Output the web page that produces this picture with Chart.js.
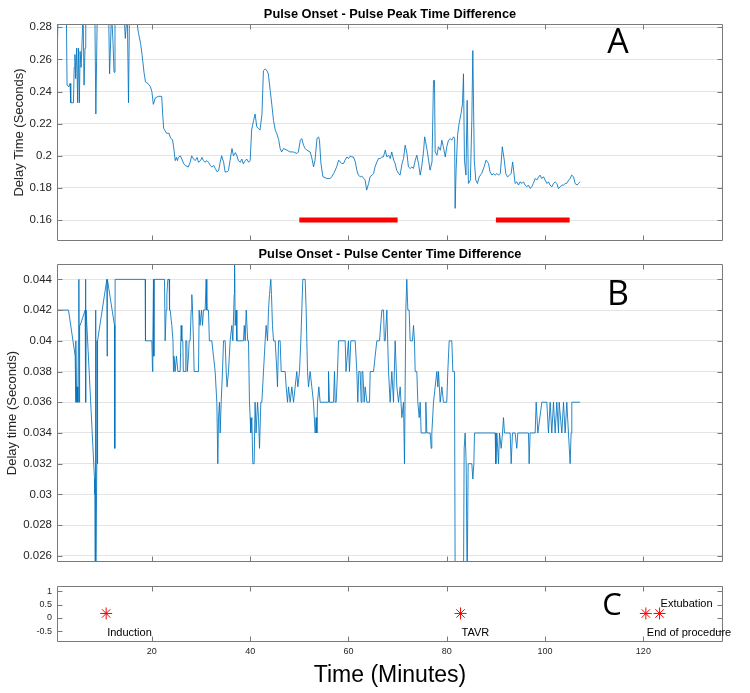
<!DOCTYPE html>
<html>
<head>
<meta charset="utf-8">
<script src="https://cdn.jsdelivr.net/npm/chart.js@4"></script>
<style>
  body { margin: 0; background: #fff; }
  #wrap { position: relative; width: 750px; height: 693px; }
  canvas { position: absolute; left: 0; top: 0; }
</style>
</head>
<body>
<div id="wrap">
  <canvas id="chartA" width="750" height="693"></canvas>
  <canvas id="chartB" width="750" height="693"></canvas>
  <canvas id="chartC" width="750" height="693"></canvas>
</div>
<script>
// shared time axis (minutes)
const xTicks = [20, 40, 60, 80, 100, 120];
const xRange = [0.7, 136.2];

// A: pulse onset - pulse peak, [minutes, seconds]
const peakTicks = [0.16, 0.18, 0.2, 0.22, 0.24, 0.26, 0.28];
const peakRange = [0.147, 0.282];
const peakDiff = [
  [0.75,0.266],[0.95,0.29],[2.6,0.29],[2.75,0.244],[3.1,0.243],[3.35,0.245],[3.5,0.233],[4.05,0.233],
  [4.2,0.255],[4.35,0.263],[4.5,0.248],[4.7,0.267],[4.9,0.233],[5.05,0.267],[5.25,0.233],[5.4,0.265],
  [5.6,0.255],[5.85,0.275],[6.0,0.29],[6.2,0.244],[6.4,0.267],[6.55,0.29],[8.4,0.29],[8.6,0.226],
  [8.9,0.29],[11.2,0.29],[11.4,0.251],[11.6,0.27],[11.8,0.29],[12.1,0.27],[12.3,0.252],[12.5,0.29],
  [14.3,0.29],[14.6,0.273],[15.0,0.29],[15.1,0.29],[15.25,0.233],[15.45,0.29],[16.9,0.29],[17.1,0.28],
  [17.3,0.276],[17.7,0.27],[18.0,0.263],[18.4,0.252],[18.7,0.246],[19.2,0.245],[19.7,0.243],[20.0,0.24],
  [20.3,0.232],[20.7,0.236],[21.3,0.237],[22.0,0.237],[22.2,0.226],[22.4,0.217],[23.0,0.214],[23.5,0.214],
  [23.8,0.211],[24.2,0.21],[24.45,0.205],[24.75,0.197],[25.0,0.199],[25.2,0.197],[25.4,0.199],[25.8,0.2],
  [26.1,0.198],[26.5,0.195],[26.8,0.194],[27.4,0.193],[27.8,0.196],[28.1,0.2],[28.5,0.198],[28.8,0.197],
  [29.2,0.199],[29.5,0.196],[29.9,0.197],[30.2,0.199],[30.5,0.197],[30.8,0.196],[31.2,0.197],[31.5,0.196],
  [31.9,0.194],[32.2,0.193],[32.6,0.194],[32.9,0.192],[33.3,0.19],[33.6,0.191],[33.9,0.196],[34.2,0.2],
  [34.6,0.196],[34.9,0.19],[35.3,0.19],[35.6,0.191],[35.9,0.197],[36.3,0.2045],[36.6,0.2],[37.0,0.202],
  [37.3,0.2],[37.6,0.197],[38.0,0.196],[38.3,0.198],[38.6,0.195],[39.0,0.197],[39.3,0.198],[39.7,0.196],
  [40.0,0.197],[40.3,0.216],[40.7,0.222],[41.0,0.226],[41.35,0.218],[41.7,0.217],[42.0,0.216],[42.4,0.226],
  [42.7,0.253],[43.05,0.254],[43.4,0.253],[43.7,0.251],[44.1,0.24],[44.4,0.232],[44.75,0.222],[45.1,0.216],
  [45.4,0.214],[45.8,0.21],[46.1,0.2045],[46.4,0.2024],[46.8,0.2045],[47.5,0.2035],[48.1,0.2024],[48.8,0.2024],
  [49.5,0.2014],[49.8,0.2024],[50.2,0.2097],[50.5,0.2107],[50.85,0.2066],[51.2,0.2045],[51.5,0.2035],[52.2,0.2024],
  [52.5,0.1993],[52.9,0.1931],[53.2,0.1973],[53.6,0.2107],[53.9,0.2118],[54.1,0.2097],[54.4,0.1952],[54.8,0.187],
  [55.6,0.1859],[56.3,0.1859],[56.6,0.187],[57.0,0.189],[57.6,0.1931],[58.0,0.1973],[58.3,0.1962],[58.65,0.1952],
  [59.0,0.1952],[59.3,0.1973],[59.7,0.1993],[60.0,0.1983],[60.35,0.1998],[60.7,0.1993],[61.0,0.1993],[61.4,0.1962],
  [61.7,0.1911],[62.0,0.188],[62.4,0.187],[62.7,0.1874],[63.1,0.1859],[63.4,0.1849],[63.7,0.1787],[64.1,0.1828],
  [64.4,0.187],[64.8,0.188],[65.1,0.189],[65.4,0.1931],[65.8,0.1962],[66.1,0.1983],[66.45,0.1983],[66.8,0.1993],
  [67.1,0.1993],[67.5,0.2035],[67.8,0.1993],[68.15,0.2004],[68.5,0.1983],[68.8,0.2024],[69.2,0.1973],[69.5,0.1952],
  [69.8,0.1911],[70.2,0.189],[70.5,0.188],[70.9,0.1952],[71.2,0.1983],[71.54,0.2066],[71.9,0.2014],[72.2,0.1931],
  [72.55,0.1921],[72.9,0.1931],[73.2,0.1921],[73.6,0.1973],[73.9,0.2004],[74.25,0.1952],[74.6,0.188],[74.9,0.1931],
  [75.3,0.2035],[75.5,0.2118],[75.7,0.2087],[76.0,0.2035],[76.3,0.1973],[76.6,0.1911],[77.0,0.1962],[77.3,0.2469],
  [77.5,0.2469],[77.64,0.2024],[78.0,0.2004],[78.3,0.2056],[78.7,0.2035],[79.0,0.2097],[79.3,0.2056],[79.7,0.1993],
  [80.0,0.2056],[80.35,0.2097],[80.7,0.2107],[81.0,0.2097],[81.4,0.2118],[81.6,0.2107],[81.7,0.1673],[81.9,0.1911],
  [82.2,0.2128],[82.5,0.22],[82.9,0.2262],[83.2,0.2324],[83.4,0.251],[83.6,0.1973],[83.9,0.188],[84.15,0.2345],
  [84.4,0.1828],[84.8,0.1849],[85.1,0.2221],[85.3,0.2655],[85.6,0.1973],[85.9,0.1849],[86.25,0.1828],[86.6,0.1869],
  [87.1,0.189],[87.6,0.1931],[88.0,0.1973],[88.5,0.1952],[88.8,0.19],[89.2,0.188],[89.5,0.189],[89.85,0.188],
  [90.2,0.189],[90.5,0.188],[90.9,0.189],[91.3,0.2056],[91.7,0.1973],[92.0,0.189],[92.35,0.1869],[92.8,0.188],
  [93.1,0.189],[93.4,0.1962],[93.6,0.1911],[93.9,0.1828],[94.25,0.1838],[94.6,0.1818],[94.9,0.1838],[95.3,0.1828],
  [95.6,0.1838],[95.95,0.1818],[96.3,0.1807],[96.6,0.1818],[96.96,0.1797],[97.3,0.1807],[97.6,0.1828],[98.0,0.1859],
  [98.3,0.1849],[98.7,0.1869],[99.0,0.188],[99.3,0.1859],[99.7,0.1869],[100.0,0.1849],[100.4,0.1828],[100.7,0.1838],
  [101.0,0.1818],[101.4,0.1807],[101.7,0.1828],[102.05,0.1838],[102.4,0.1828],[102.7,0.1797],[103.1,0.1807],[103.4,0.1818],
  [103.75,0.1818],[104.1,0.1828],[104.4,0.1828],[104.8,0.1849],[105.1,0.1859],[105.4,0.188],[105.8,0.1869],[106.1,0.1828],
  [106.5,0.1818],[106.8,0.1828],[107.1,0.1838]
];
// red bars on A
const stableWindows = [[50, 70], [90, 105]];
const stableLevel = 0.16;

// B: pulse onset - pulse center, [minutes, seconds]
const centerTicks = [0.026, 0.028, 0.03, 0.032, 0.034, 0.036, 0.038, 0.04, 0.042, 0.044];
const centerRange = [0.0256, 0.045];
const centerDiff = [
  [0.66,0.042],[3.04,0.042],[4.4,0.039],[4.5,0.036],[4.55,0.04],[4.65,0.037],[4.75,0.036],[4.85,0.037],
  [4.95,0.036],[5.05,0.04],[5.15,0.044],[5.22,0.036],[5.3,0.041],[5.41,0.041],[6.43,0.042],[6.5,0.044],
  [6.56,0.036],[6.62,0.042],[8.33,0.031],[8.4,0.03],[8.46,0.024],[8.55,0.042],[8.6,0.024],[8.8,0.032],
  [8.85,0.04],[8.9,0.032],[9.0,0.04],[10.84,0.044],[10.9,0.039],[10.95,0.044],[12.4,0.041],[12.43,0.037],
  [12.47,0.033],[12.53,0.044],[18.64,0.044],[18.7,0.04],[20.0,0.04],[20.13,0.038],[20.2,0.04],[20.33,0.044],
  [20.4,0.039],[20.47,0.044],[22.57,0.044],[22.7,0.04],[22.91,0.042],[23.05,0.043],[23.25,0.044],[23.52,0.044],
  [23.6,0.042],[23.72,0.042],[24.06,0.041],[24.3,0.04],[24.4,0.038],[24.5,0.039],[24.74,0.038],[25.0,0.039],
  [25.3,0.038],[25.76,0.038],[25.96,0.041],[26.1,0.04],[26.3,0.04],[26.4,0.038],[26.78,0.038],[26.9,0.04],
  [27.11,0.04],[27.2,0.038],[27.45,0.039],[27.6,0.04],[27.79,0.04],[28.0,0.042],[28.13,0.043],[28.27,0.042],
  [28.47,0.04],[28.6,0.038],[29.49,0.038],[29.62,0.042],[29.8,0.041],[29.96,0.041],[30.1,0.042],[30.3,0.041],
  [30.5,0.042],[30.84,0.042],[31.05,0.044],[31.18,0.042],[31.52,0.042],[31.7,0.04],[32.2,0.04],[32.54,0.039],
  [32.88,0.038],[33.22,0.036],[33.42,0.032],[33.56,0.035],[33.75,0.036],[33.9,0.034],[34.1,0.036],[34.37,0.038],
  [34.58,0.04],[34.91,0.04],[35.12,0.038],[35.3,0.037],[35.46,0.037],[35.59,0.038],[35.93,0.04],[36.27,0.041],
  [36.47,0.04],[36.75,0.043],[36.82,0.046],[36.95,0.041],[37.15,0.042],[37.29,0.04],[38.64,0.04],[38.8,0.041],
  [38.98,0.04],[39.2,0.042],[39.32,0.042],[39.5,0.04],[39.66,0.04],[39.86,0.036],[40.0,0.035],[40.13,0.034],
  [40.34,0.035],[40.54,0.032],[40.81,0.032],[41.0,0.036],[41.2,0.034],[41.35,0.034],[41.5,0.036],[41.7,0.035],
  [41.9,0.033],[42.17,0.036],[42.37,0.036],[42.71,0.038],[43.05,0.04],[43.25,0.041],[43.53,0.04],[43.73,0.042],
  [43.93,0.043],[44.2,0.044],[44.34,0.043],[44.54,0.041],[44.75,0.04],[45.09,0.04],[45.43,0.038],[45.56,0.037],
  [45.77,0.04],[46.1,0.04],[46.31,0.038],[47.12,0.038],[47.33,0.037],[47.6,0.036],[47.8,0.037],[48.14,0.036],
  [48.48,0.037],[48.82,0.036],[49.15,0.037],[49.49,0.038],[49.7,0.037],[50.04,0.038],[50.31,0.04],[50.51,0.042],
  [50.71,0.044],[51.19,0.044],[51.39,0.042],[51.67,0.038],[51.87,0.037],[52.2,0.038],[52.54,0.037],[52.88,0.036],
  [53.22,0.034],[53.43,0.035],[53.56,0.034],[53.7,0.036],[53.97,0.037],[54.24,0.036],[55.9,0.036],[55.94,0.038],
  [56.14,0.036],[56.95,0.036],[57.16,0.038],[57.3,0.036],[57.5,0.036],[57.77,0.038],[57.97,0.04],[59.33,0.04],
  [59.5,0.038],[59.67,0.038],[60.0,0.04],[60.2,0.038],[60.48,0.04],[61.37,0.04],[61.7,0.038],[61.9,0.036],
  [62.1,0.038],[62.38,0.038],[62.58,0.036],[62.75,0.038],[62.92,0.038],[63.2,0.036],[63.4,0.037],[63.74,0.036],
  [64.28,0.036],[64.42,0.038],[65.1,0.038],[65.43,0.039],[65.77,0.04],[66.32,0.04],[66.79,0.042],[67.13,0.042],
  [67.3,0.04],[67.47,0.04],[67.81,0.042],[68.15,0.038],[68.48,0.036],[68.82,0.038],[69.16,0.036],[69.5,0.04],
  [69.84,0.037],[70.18,0.036],[70.52,0.037],[70.86,0.035],[71.2,0.036],[71.4,0.032],[71.67,0.042],[71.87,0.044],
  [72.08,0.042],[72.35,0.042],[72.55,0.04],[73.03,0.04],[73.23,0.041],[73.43,0.04],[73.57,0.038],[73.91,0.038],
  [74.11,0.036],[74.39,0.035],[74.59,0.036],[74.79,0.034],[75.6,0.034],[75.74,0.036],[75.94,0.034],[76.62,0.034],
  [76.83,0.033],[76.96,0.034],[77.3,0.036],[77.64,0.037],[77.98,0.038],[78.18,0.037],[78.32,0.038],[78.66,0.036],
  [79.0,0.037],[79.33,0.036],[80.0,0.036],[80.21,0.038],[80.49,0.04],[81.03,0.04],[81.23,0.038],[81.57,0.038],
  [81.71,0.024],[83.4,0.024],[83.54,0.033],[83.74,0.034],[83.95,0.032],[84.15,0.024],[84.35,0.032],[85.1,0.032],
  [85.3,0.031],[85.51,0.032],[85.64,0.034],[89.85,0.034],[89.98,0.032],[90.19,0.034],[90.52,0.032],[90.73,0.034],
  [91.07,0.033],[91.34,0.034],[91.54,0.035],[91.74,0.034],[92.9,0.034],[93.1,0.032],[93.37,0.034],[93.91,0.034],
  [94.25,0.033],[94.45,0.034],[96.62,0.034],[96.76,0.032],[96.96,0.034],[97.98,0.034],[98.19,0.036],[98.53,0.034],
  [99.34,0.036],[100.36,0.036],[100.69,0.034],[101.03,0.036],[101.37,0.034],[101.71,0.036],[102.05,0.034],[102.39,0.036],
  [102.73,0.034],[102.87,0.036],[103.41,0.034],[103.75,0.036],[104.08,0.034],[104.42,0.036],[104.76,0.034],[105.1,0.032],
  [105.3,0.034],[105.44,0.036],[107.13,0.036]
];

// C: procedure events
const eventTicks = [-0.5, 0, 0.5, 1];
const eventRange = [-0.9, 1.2];
const eventNames = ['Induction', 'TAVR', 'End of procedure', 'Extubation'];
const eventTimes = [10.7, 82.8, 120.5, 123.3];
const eventLevel = [0.17, 0.17, 0.17, 0.17];
const labelBelow = [true, true, true, false];

const FONT = "'Liberation Sans', Arial, sans-serif";
const LETTER_FONT = "'Open Sans', 'Liberation Sans', sans-serif";
const TEXT = '#262626';
const AXIS = '#7a7a7a';
const GRID = '#e4e4e4';
const BLUE = '#0072BD';

const toXY = rows => rows.map(r => ({ x: r[0], y: r[1] }));

// box, inward tick marks, panel title, panel letter, event labels
const framePlugin = {
  id: 'frame',
  afterDraw(chart, args, o) {
    const { ctx, chartArea: a } = chart;
    const x = chart.scales.x, y = chart.scales.y;
    const L = Math.round(a.left) + 0.5, R = Math.round(a.right) - 0.5;
    const T = Math.round(a.top) + 0.5, B = Math.round(a.bottom) - 0.5;
    ctx.save();
    ctx.strokeStyle = AXIS;
    ctx.lineWidth = 1;
    ctx.beginPath();
    ctx.rect(L, T, R - L, B - T);
    xTicks.forEach(v => {
      const px = Math.round(x.getPixelForValue(v)) + 0.5;
      ctx.moveTo(px, B); ctx.lineTo(px, B - 5);
      ctx.moveTo(px, T); ctx.lineTo(px, T + 5);
    });
    o.yTicks.forEach(v => {
      const py = Math.round(y.getPixelForValue(v)) + 0.5;
      ctx.moveTo(L, py); ctx.lineTo(L + 5, py);
      ctx.moveTo(R, py); ctx.lineTo(R - 5, py);
    });
    ctx.stroke();

    ctx.fillStyle = '#000';
    ctx.textAlign = 'center';
    ctx.textBaseline = 'middle';
    if (o.title) {
      ctx.font = 'bold 12.8px ' + FONT;
      ctx.fillText(o.title, (a.left + a.right) / 2, a.top - 10);
    }
    ctx.font = o.letterSize + 'px ' + LETTER_FONT;
    ctx.fillText(o.letter, o.letterPos[0], o.letterPos[1]);

    if (o.events) {
      ctx.font = '11px ' + FONT;
      ctx.textAlign = 'left';
      eventNames.forEach((name, i) => {
        const px = x.getPixelForValue(eventTimes[i]);
        const py = y.getPixelForValue(eventLevel[i]);
        ctx.fillText(name, px + 1, py + (labelBelow[i] ? 20 : -9));
      });
    }
    ctx.restore();
  }
};

function yAxis(range, ticks, opts) {
  return {
    type: 'linear',
    min: range[0],
    max: range[1],
    afterBuildTicks: s => { s.ticks = ticks.map(v => ({ value: v })); },
    afterFit: s => { s.width = 57; },
    grid: { display: opts.grid, color: GRID, drawTicks: false },
    border: { display: false },
    ticks: {
      autoSkip: false,
      padding: 5,
      color: TEXT,
      font: { family: FONT, size: opts.tickSize },
      callback: v => String(v)
    },
    title: {
      display: !!opts.title,
      text: opts.title || '',
      color: TEXT,
      font: { family: FONT, size: 13 },
      padding: { top: opts.titlePad || 0, bottom: 0 }
    }
  };
}

function baseOptions(padding) {
  return {
    responsive: false,
    animation: false,
    devicePixelRatio: 1,
    layout: { padding },
    elements: { point: { radius: 0 }, line: { tension: 0 } }
  };
}

// Panel A
const optsA = baseOptions({ left: 0, right: 27, top: 24, bottom: 452 });
optsA.plugins = {
  legend: { display: false },
  tooltip: { enabled: false },
  frame: { yTicks: peakTicks, title: 'Pulse Onset - Pulse Peak Time Difference', letter: 'A', letterSize: 34, letterPos: [618, 43] }
};
optsA.scales = {
  x: { type: 'linear', min: xRange[0], max: xRange[1], display: false },
  y: yAxis(peakRange, peakTicks, { grid: true, tickSize: 11.5, title: 'Delay Time (Seconds)', titlePad: 12 })
};
new Chart(document.getElementById('chartA'), {
  type: 'line',
  data: {
    datasets: [
      { data: toXY(peakDiff), borderColor: BLUE, borderWidth: 0.85 },
      ...stableWindows.map(w => ({
        data: [{ x: w[0], y: stableLevel }, { x: w[1], y: stableLevel }],
        borderColor: '#ff0000',
        borderWidth: 5,
        borderCapStyle: 'butt'
      }))
    ]
  },
  options: optsA,
  plugins: [framePlugin]
});

// Panel B
const optsB = baseOptions({ left: 0, right: 27, top: 264, bottom: 131 });
optsB.plugins = {
  legend: { display: false },
  tooltip: { enabled: false },
  frame: { yTicks: centerTicks, title: 'Pulse Onset - Pulse Center Time Difference', letter: 'B', letterSize: 34, letterPos: [618, 295] }
};
optsB.scales = {
  x: { type: 'linear', min: xRange[0], max: xRange[1], display: false },
  y: yAxis(centerRange, centerTicks, { grid: true, tickSize: 11.5, title: 'Delay time (Seconds)', titlePad: 5 })
};
new Chart(document.getElementById('chartB'), {
  type: 'line',
  data: { datasets: [{ data: toXY(centerDiff), borderColor: BLUE, borderWidth: 0.85 }] },
  options: optsB,
  plugins: [framePlugin]
});

// Panel C
const optsC = baseOptions({ left: 0, right: 27, top: 586, bottom: 0 });
optsC.plugins = {
  legend: { display: false },
  tooltip: { enabled: false },
  frame: { yTicks: eventTicks, letter: 'C', letterSize: 31, letterPos: [612, 606], events: true }
};
optsC.scales = {
  x: {
    type: 'linear',
    min: xRange[0],
    max: xRange[1],
    afterBuildTicks: s => { s.ticks = xTicks.map(v => ({ value: v })); },
    afterFit: s => { s.height = 51; },
    grid: { display: false, drawTicks: false },
    border: { display: false },
    ticks: { autoSkip: false, maxRotation: 0, padding: 4, color: TEXT, font: { family: FONT, size: 9 } },
    title: {
      display: true,
      text: 'Time (Minutes)',
      color: '#000',
      font: { family: FONT, size: 23 },
      padding: { top: 0, bottom: 4 }
    }
  },
  y: yAxis(eventRange, eventTicks, { grid: false, tickSize: 9 })
};
new Chart(document.getElementById('chartC'), {
  type: 'line',
  data: {
    datasets: [{
      data: eventTimes.map((t, i) => ({ x: t, y: eventLevel[i] })),
      showLine: false,
      pointStyle: 'star',
      pointRadius: 6,
      pointBorderWidth: 1,
      pointBorderColor: '#ff0000',
      pointBackgroundColor: '#ff0000'
    }]
  },
  options: optsC,
  plugins: [framePlugin]
});
</script>
</body>
</html>
